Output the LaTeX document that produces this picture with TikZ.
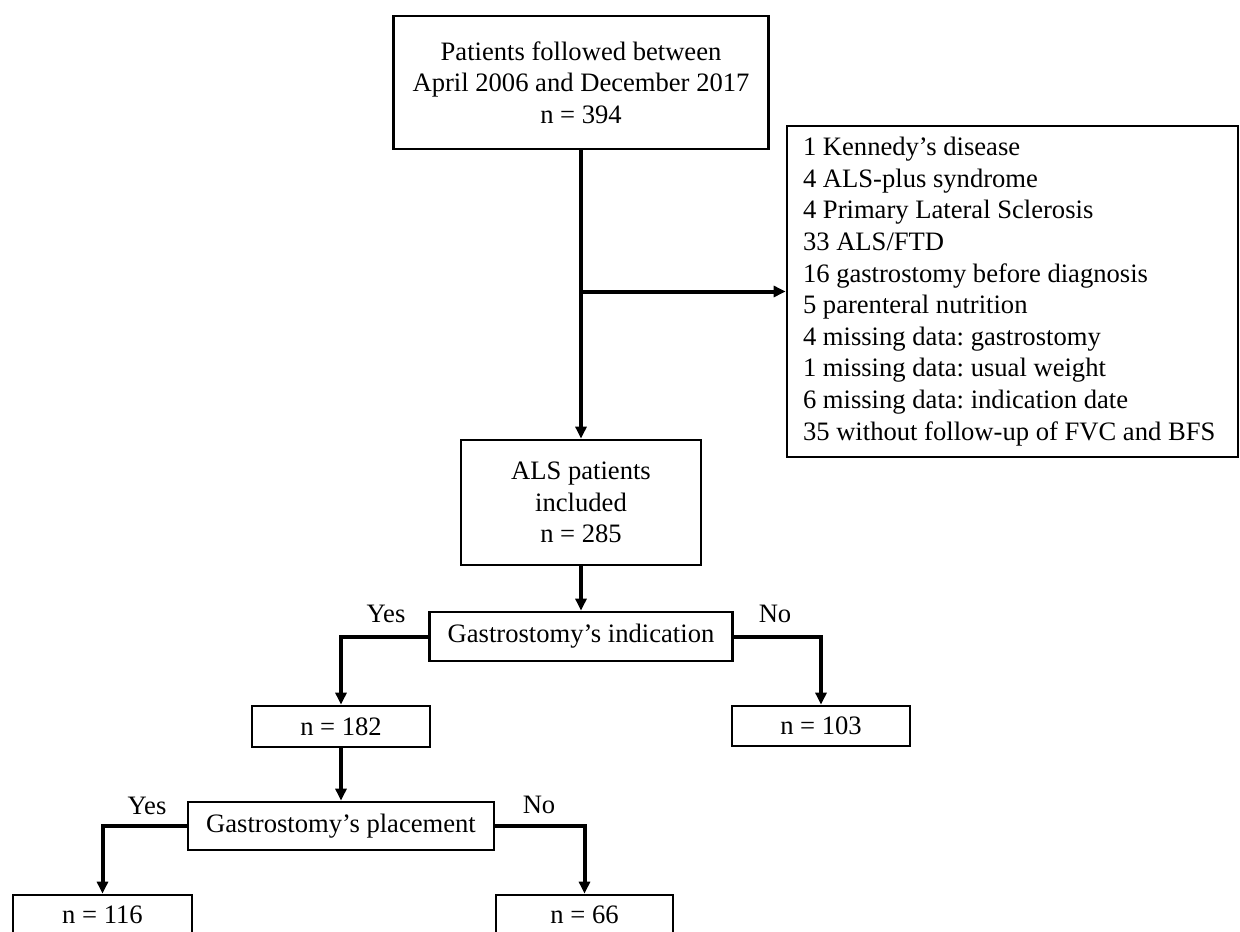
\documentclass[tikz,border=0pt]{standalone}
\usepackage{fontspec}
\setmainfont{Liberation Serif}
\usetikzlibrary{arrows.meta}
\tikzset{>={Triangle[length=6pt,width=5.5pt]},every node/.style={font=\fontsize{13.3}{15.8}\selectfont\frenchspacing},blk/.style={draw,line width=1.4pt,inner sep=0pt,align=center},flow/.style={line width=2pt,->},edge/.style={line width=2pt}}

\begin{document}
\begin{tikzpicture}[x=.5pt,y=-.5pt]
\useasboundingbox (0,0) rectangle (1240,931);
% boxes
\node[blk,minimum width=187.5pt,minimum height=66.5pt] (pop) at (581,82.5) {Patients followed between\\April 2006 and December 2017\\n = 394};
\node[blk,align=flush left,text width=209.5pt,inner xsep=8pt,minimum height=165.5pt] (excl) at (1012.5,291.5) {1 Kennedy’s disease\\4 ALS-plus syndrome\\4 Primary Lateral Sclerosis\\33 ALS/FTD\\16 gastrostomy before diagnosis\\5 parenteral nutrition\\4 missing data: gastrostomy\\1 missing data: usual weight\\6 missing data: indication date\\\mbox{35 without follow-up of FVC and BFS}};
\node[blk,minimum width=120pt,minimum height=62.5pt] (als) at (581,502.5) {ALS patients\\included\\n = 285};
\node[blk,minimum width=151.5pt,minimum height=24.5pt] (ind) at (581,636.5) {Gastrostomy’s indication};
\node[blk,minimum width=89pt,minimum height=20.5pt] (n182) at (341,726.5) {n = 182};
\node[blk,minimum width=89pt,minimum height=20pt] (n103) at (821,726) {n = 103};
\node[blk,minimum width=153pt,minimum height=24pt] (place) at (341,826) {Gastrostomy’s placement};
\node[blk,minimum width=89.5pt,minimum height=20pt] (n116) at (102.5,915) {n = 116};
\node[blk,minimum width=88.5pt,minimum height=20pt] (n66) at (584.5,915) {n = 66};
% branch labels
\node (yesI) at (386,614) {Yes};\node (noI) at (775,614) {No};
\node (yesP) at (147,806) {Yes};\node (noP) at (539,805) {No};
% connectors
\draw[flow] (pop) -- (als);\draw[flow] (pop.south |- excl.west) -- (excl.west);
\draw[flow] (als) -- (ind);
\draw[flow] (ind.west) -| (n182);\draw[flow] (ind.east) -| (n103);
\draw[flow] (n182) -- (place);
\draw[flow] (place.west) -| (n116);\draw[flow] (place.east) -| (n66);
\end{tikzpicture}
\end{document}
